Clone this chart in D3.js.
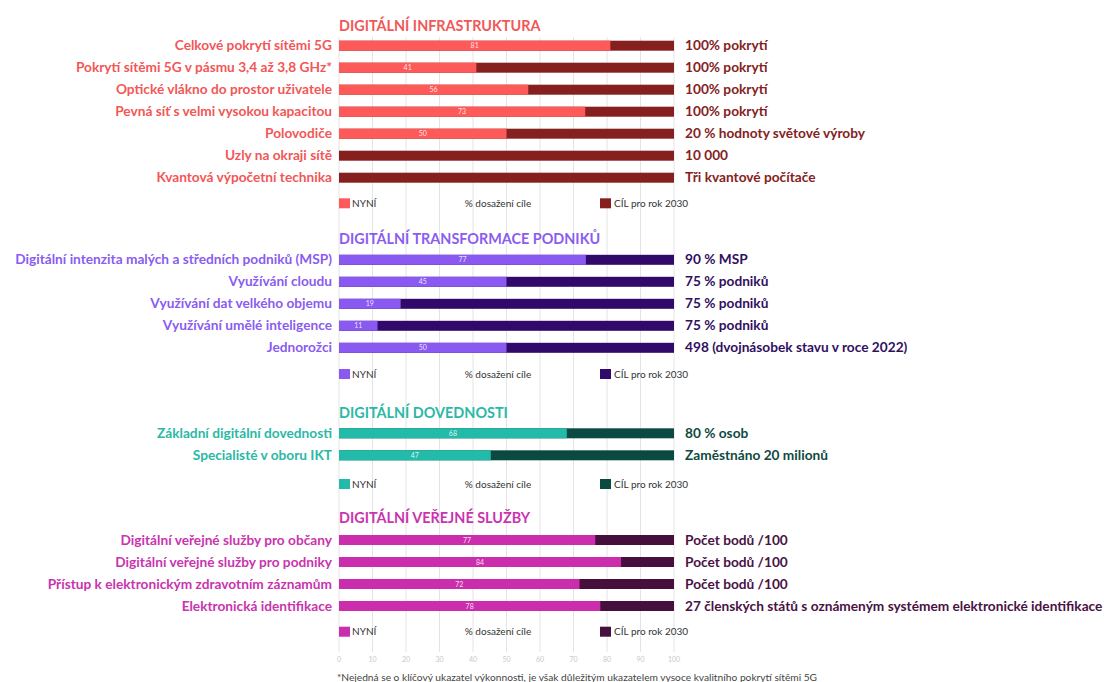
<!DOCTYPE html>
<html>
<head>
<meta charset="utf-8">
<script src="https://cdn.jsdelivr.net/npm/d3@7"></script>
<style>
  body { margin: 0; background: #fff; }
  svg { display: block; font-family: Lato, "Open Sans", sans-serif; }
</style>
</head>
<body>
<div id="chart"></div>
<script>
// ---- data ----
var ticks = [0, 10, 20, 30, 40, 50, 60, 70, 80, 90, 100];

var infraTitle = "DIGITÁLNÍ INFRASTRUKTURA";
var infraLabels = ["Celkové pokrytí sítěmi 5G", "Pokrytí sítěmi 5G v pásmu 3,4 až 3,8 GHz*", "Optické vlákno do prostor uživatele", "Pevná síť s velmi vysokou kapacitou", "Polovodiče", "Uzly na okraji sítě", "Kvantová výpočetní technika"];
var infraNow = [81, 41, 56.5, 73.5, 50, 0, 0];
var infraNowText = ["81", "41", "56", "73", "50", "", ""];
var infraTargets = ["100% pokrytí", "100% pokrytí", "100% pokrytí", "100% pokrytí", "20 % hodnoty světové výroby", "10 000", "Tři kvantové počítače"];

var bizTitle = "DIGITÁLNÍ TRANSFORMACE PODNIKŮ";
var bizLabels = ["Digitální intenzita malých a středních podniků (MSP)", "Využívání cloudu", "Využívání dat velkého objemu", "Využívání umělé inteligence", "Jednorožci"];
var bizNow = [73.7, 50, 18.4, 11.5, 50];
var bizNowText = ["77", "45", "19", "11", "50"];
var bizTargets = ["90 % MSP", "75 % podniků", "75 % podniků", "75 % podniků", "498 (dvojnásobek stavu v roce 2022)"];

var skillsTitle = "DIGITÁLNÍ DOVEDNOSTI";
var skillsLabels = ["Základní digitální dovednosti", "Specialisté v oboru IKT"];
var skillsNow = [68, 45.3];
var skillsNowText = ["68", "47"];
var skillsTargets = ["80 % osob", "Zaměstnáno 20 milionů"];

var publicTitle = "DIGITÁLNÍ VEŘEJNÉ SLUŽBY";
var publicLabels = ["Digitální veřejné služby pro občany", "Digitální veřejné služby pro podniky", "Přístup k elektronickým zdravotním záznamům", "Elektronická identifikace"];
var publicNow = [76.5, 84.2, 71.8, 78];
var publicNowText = ["77", "84", "72", "78"];
var publicTargets = ["Počet bodů /100", "Počet bodů /100", "Počet bodů /100", "27 členských států s oznámeným systémem elektronické identifikace"];

var legendNow = "NYNÍ", legendMid = "% dosažení cíle", legendTarget = "CÍL pro rok 2030";
var footnote = "*Nejedná se o klíčový ukazatel výkonnosti, je však důležitým ukazatelem vysoce kvalitního pokrytí sítěmi 5G";

// ---- layout / style ----
var W = 1104, H = 682;
var sections = [
  {title: infraTitle, labels: infraLabels, now: infraNow, nowText: infraNowText, targets: infraTargets,
   titleY: 30.7, firstY: 45.7, legendY: 203.3, light: "#FF5A5A", dark: "#85201F", labelColor: "#F25757", targetColor: "#842222"},
  {title: bizTitle, labels: bizLabels, now: bizNow, nowText: bizNowText, targets: bizTargets,
   titleY: 243.5, firstY: 259.8, legendY: 374, light: "#8A59F2", dark: "#31096A", labelColor: "#8A5CF0", targetColor: "#31105F"},
  {title: skillsTitle, labels: skillsLabels, now: skillsNow, nowText: skillsNowText, targets: skillsTargets,
   titleY: 418.3, firstY: 433.3, legendY: 484, light: "#22BBA9", dark: "#0A4A40", labelColor: "#2AB9A6", targetColor: "#0F4A3F"},
  {title: publicTitle, labels: publicLabels, now: publicNow, nowText: publicNowText, targets: publicTargets,
   titleY: 523.3, firstY: 540, legendY: 631.7, light: "#CB2EAC", dark: "#470F3C", labelColor: "#C934AE", targetColor: "#4A1244"}
];
var rowStep = 22, barH = 10;

var x = d3.scaleLinear().domain([0, 100]).range([339, 674]);

var svg = d3.select("#chart").append("svg")
    .attr("width", W)
    .attr("height", H);

// vertical grid lines
svg.append("g")
    .selectAll("line")
    .data(ticks)
    .enter().append("line")
    .attr("x1", function(d){ return x(d); })
    .attr("x2", function(d){ return x(d); })
    .attr("y1", 37)
    .attr("y2", 652)
    .style("stroke", "#e4e4e4")
    .style("stroke-width", 1);

// tick labels at the bottom
svg.append("g")
    .selectAll("text")
    .data(ticks)
    .enter().append("text")
    .attr("x", function(d){ return x(d); })
    .attr("y", 662)
    .attr("text-anchor", "middle")
    .style("font-size", "7px")
    .style("fill", "#c8c8c8")
    .text(function(d){ return d; });

sections.forEach(function(s){
    var g = svg.append("g");
    var y = function(i){ return s.firstY + i * rowStep; };

    g.append("text")
        .attr("x", 339)
        .attr("y", s.titleY)
        .style("font-size", "14.4px")
        .style("font-weight", "bold")
        .style("fill", s.labelColor)
        .text(s.title);

    // target (full) bars
    g.selectAll(".target")
        .data(s.labels)
        .enter().append("rect")
        .attr("x", x(0))
        .attr("width", x(100) - x(0))
        .attr("y", function(d, i){ return y(i) - barH / 2; })
        .attr("height", barH)
        .style("fill", s.dark);

    // current bars
    g.selectAll(".now")
        .data(s.now)
        .enter().append("rect")
        .attr("x", x(0))
        .attr("width", function(d){ return x(d) - x(0); })
        .attr("y", function(d, i){ return y(i) - barH / 2; })
        .attr("height", barH)
        .style("fill", s.light);

    // value labels
    g.selectAll(".val")
        .data(s.now)
        .enter().append("text")
        .attr("x", function(d){ return (x(0) + x(d)) / 2; })
        .attr("y", function(d, i){ return y(i) + 2.6; })
        .attr("text-anchor", "middle")
        .style("font-size", "7px")
        .style("fill", "#fff")
        .style("fill-opacity", 0.85)
        .text(function(d, i){ return s.nowText[i]; });

    // category labels on the left
    g.selectAll(".lab")
        .data(s.labels)
        .enter().append("text")
        .attr("x", 332)
        .attr("y", function(d, i){ return y(i) + 4.6; })
        .attr("text-anchor", "end")
        .style("font-size", "13.7px")
        .style("font-weight", "bold")
        .style("fill", s.labelColor)
        .text(function(d){ return d; });

    // targets on the right
    g.selectAll(".tgt")
        .data(s.targets)
        .enter().append("text")
        .attr("x", 685)
        .attr("y", function(d, i){ return y(i) + 4.6; })
        .style("font-size", "13.7px")
        .style("font-weight", "bold")
        .style("fill", s.targetColor)
        .text(function(d){ return d; });

    // legend
    g.append("rect")
        .attr("x", 339).attr("y", s.legendY - 5)
        .attr("width", 11).attr("height", 10)
        .style("fill", s.light);
    g.append("text")
        .attr("x", 352).attr("y", s.legendY + 3.5)
        .style("font-size", "10px").style("fill", "#333")
        .text(legendNow);
    g.append("text")
        .attr("x", 498).attr("y", s.legendY + 3.5)
        .attr("text-anchor", "middle")
        .style("font-size", "10px").style("fill", "#333")
        .text(legendMid);
    g.append("rect")
        .attr("x", 600).attr("y", s.legendY - 5)
        .attr("width", 11).attr("height", 10)
        .style("fill", s.dark);
    g.append("text")
        .attr("x", 614).attr("y", s.legendY + 3.5)
        .style("font-size", "10px").style("fill", "#333")
        .text(legendTarget);
});

svg.append("text")
    .attr("x", 337)
    .attr("y", 681)
    .style("font-size", "10.2px")
    .style("fill", "#444")
    .text(footnote);
</script>
</body>
</html>
